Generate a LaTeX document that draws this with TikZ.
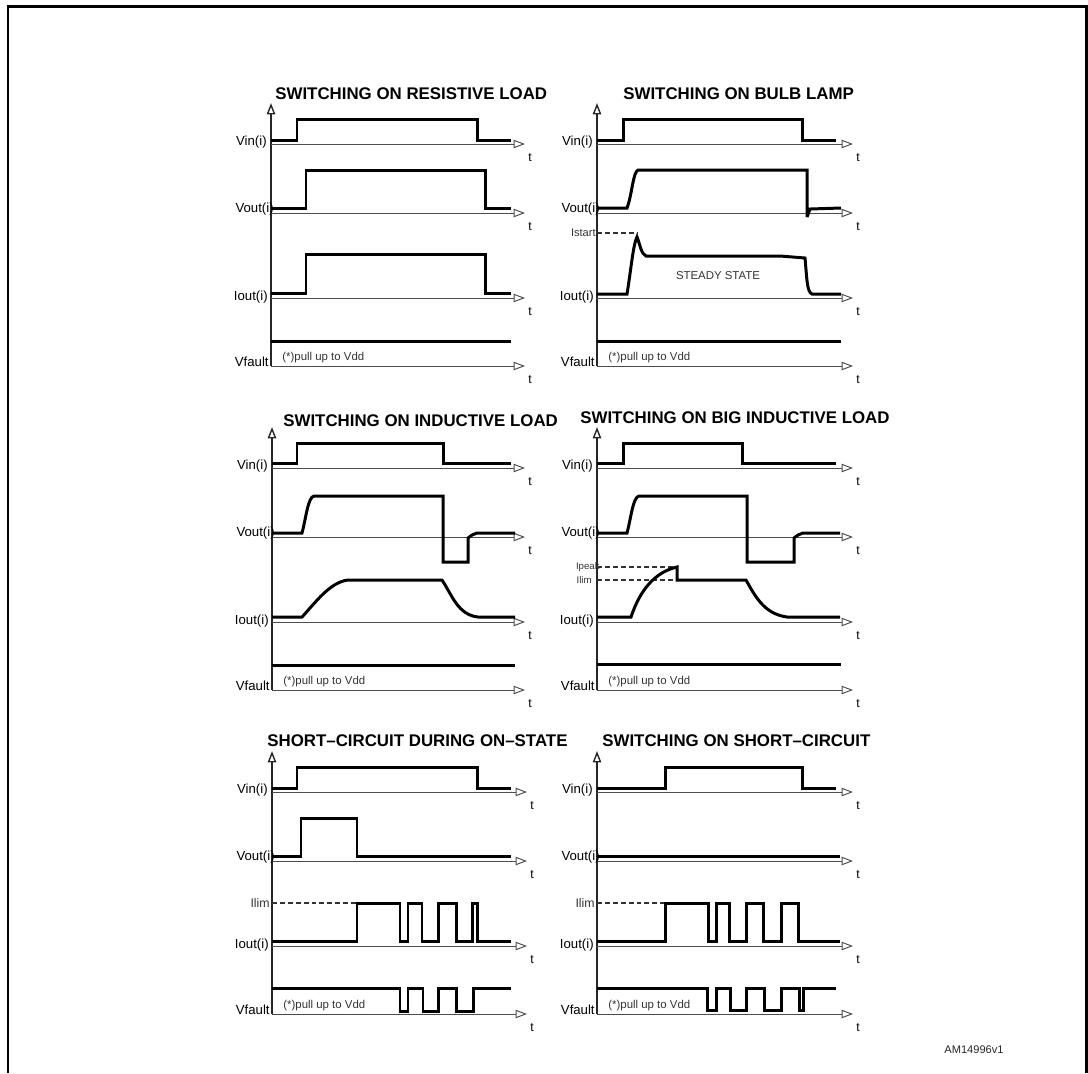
\documentclass[tikz,border=0pt]{standalone}
\usepackage{fontspec}
\setmainfont{Liberation Sans}
\usetikzlibrary{arrows.meta}

\begin{document}
\begin{tikzpicture}[x=0.02cm, y=-0.02cm,
  axis/.style={line width=0.55pt, black!70, -{Triangle[open, length=6.5pt, width=4.8pt]}},
  signal/.style={line width=1.7pt, black, miter limit=3},
  level/.style={line width=0.6pt, black!80, dash pattern=on 2.8pt off 1.7pt},
  title/.style={anchor=base west, inner sep=0pt, font=\bfseries\fontsize{9.6}{11}\selectfont},
  lab/.style={anchor=east, inner sep=0pt, black, font=\fontsize{7.5}{9}\selectfont},
  small/.style={inner sep=0pt, black!80, font=\fontsize{6.5}{8}\selectfont}]

  \useasboundingbox (0,0) rectangle (1088,1073);

  % Outer frame
  \draw[line width=1.7pt] (8,1073) -- (8,6) -- (1086,6) -- (1086,1073);

  % Titles
  \node[title] (ta) at (275,99) {SWITCHING ON RESISTIVE LOAD};
  \node[title] (tb) at (623,99) {SWITCHING ON BULB LAMP};
  \node[title] (tc) at (283,426) {SWITCHING ON INDUCTIVE LOAD};
  \node[title] (td) at (580,423) {SWITCHING ON BIG INDUCTIVE LOAD};
  \node[title] (te) at (267,746) {SHORT–CIRCUIT DURING ON–STATE};
  \node[title] (tf) at (602,746) {SWITCHING ON SHORT–CIRCUIT};

  % Axes and labels of the six panels
  \foreach \p/\xo/\yo/\xe in {a/271/0/525, b/597/0/853, c/272/324/525,
                             d/597/324/853, e/272/648/527, f/597/648/853} {
    \draw[axis, line width=0.8pt, black!85] (\xo,366+\yo) -- (\xo,103+\yo);
    \foreach \ya in {144,213,298,366} {
      \draw[axis] (\xo,\ya+\yo) -- (\xe,\ya+\yo);
      \node[small, black, font=\fontsize{7}{8}\selectfont] (t\p\ya) at (\xe+5,\ya+\yo+14) {t};
    }
    \node[lab] (vin\p) at (\xo-4,142+\yo) {Vin(i)};
    \node[lab] (vout\p) at (\xo+3,209+\yo) {Vout(i)};
    \node[lab] (iout\p) at (\xo-3,297+\yo) {Iout(i)};
    \node[lab] (vfault\p) at (\xo-2,362+\yo) {Vfault};
    \node[small, anchor=west] (pull\p) at (\xo+11,358+\yo) {(*)pull up to Vdd};
  }

  % Resistive load
  \draw[signal] (271,140) -- (297,140) -- (297,119) -- (477,119) -- (477,140) -- (511,140);
  \draw[signal] (271,208) -- (306,208) -- (306,170) -- (485,170) -- (485,208) -- (511,208);
  \draw[signal] (271,293) -- (306,293) -- (306,254) -- (485,254) -- (485,293) -- (511,293);
  \draw[signal] (271,341) -- (511,341);

  % Bulb lamp
  \draw[signal] (597,140) -- (623,140) -- (623,119) -- (802,119) -- (802,140) -- (836,140);
  \draw[signal] (597,208) -- (627,208) .. controls (632,195) and (633,172) .. (638,170)
    -- (807,170) -- (807,217) -- (810,209) -- (841,208);
  \draw[level] (597,233) -- (637,233);
  \node[small, anchor=east, font=\fontsize{6.3}{7}\selectfont] (istart) at (596,233) {Istart};
  \draw[signal] (597,294) -- (627,294) .. controls (631,270) and (633,245) .. (637,237)
    .. controls (640,244) and (641,254) .. (646,256) -- (780,256) -- (805,258)
    .. controls (807,280) and (807,292) .. (812,294) -- (841,294);
  \node[small] (steady) at (718,276) {STEADY STATE};
  \draw[signal] (597,341) -- (841,341);

  % Inductive load
  \draw[signal] (272,463) -- (297,463) -- (297,443) -- (443,443) -- (443,463) -- (511,463);
  \draw[signal] (272,533) -- (302,533) .. controls (306,518) and (308,497) .. (314,496)
    -- (443,496) -- (443,562) -- (468,562) -- (468,538) -- (472,535) -- (477,533) -- (515,533);
  \draw[signal] (272,617) -- (302,617) .. controls (315,603) and (330,582) .. (348,580)
    -- (442,580) .. controls (452,595) and (458,615) .. (478,617) -- (515,617);
  \draw[signal] (272,665) -- (515,665);

  % Big inductive load
  \draw[signal] (597,463) -- (623,463) -- (623,443) -- (742,443) -- (742,463) -- (836,463);
  \draw[signal] (597,533) -- (627,533) .. controls (631,518) and (633,497) .. (639,496)
    -- (747,496) -- (747,562) -- (794,562) -- (794,538) -- (798,535) -- (803,533) -- (840,533);
  \draw[level] (597,567) -- (677,567);
  \draw[level] (597,580) -- (677,580);
  \node[small, anchor=east, font=\fontsize{5.5}{6}\selectfont] (ipeak) at (600,567) {Ipeak};
  \node[small, anchor=east, font=\fontsize{5.5}{6}\selectfont] (ilimd) at (592,580) {Ilim};
  \draw[signal] (597,617) -- (631,617) .. controls (640,590) and (655,572) .. (677,567)
    -- (677,580) -- (746,580) .. controls (756,598) and (765,614) .. (787,617) -- (840,617);
  \draw[signal] (597,664) -- (841,664);

  % Short-circuit during on-state
  \draw[signal] (272,788) -- (297,788) -- (297,767) -- (477,767) -- (477,788) -- (511,788);
  \draw[signal] (272,856) -- (301,856) -- (301,818) -- (357,818) -- (357,856) -- (511,856);
  \draw[level] (272,903) -- (357,903);
  \node[small, anchor=east, font=\fontsize{7}{8}\selectfont] (ilime) at (270,903) {Ilim};
  \draw[signal] (272,941) -- (357,941) -- (357,903) -- (400,903) -- (400,941) -- (408,941)
    -- (408,903) -- (422,903) -- (422,941) -- (438,941) -- (438,903) -- (456,903)
    -- (456,941) -- (472,941) -- (472,903) -- (477,903) -- (477,941) -- (511,941);
  \draw[signal] (272,988) -- (400,988) -- (400,1011) -- (408,1011) -- (408,988) -- (423,988)
    -- (423,1011) -- (438,1011) -- (438,988) -- (456,988) -- (456,1011) -- (473,1011)
    -- (473,988) -- (511,988);

  % Switching on short-circuit
  \draw[signal] (597,788) -- (665,788) -- (665,767) -- (802,767) -- (802,788) -- (836,788);
  \draw[signal] (597,856) -- (840,856);
  \draw[level] (597,903) -- (665,903);
  \node[small, anchor=east, font=\fontsize{7}{8}\selectfont] (ilimf) at (595,903) {Ilim};
  \draw[signal] (597,941) -- (665,941) -- (665,903) -- (708,903) -- (708,941) -- (716,941)
    -- (716,903) -- (729,903) -- (729,941) -- (746,941) -- (746,903) -- (763,903)
    -- (763,941) -- (781,941) -- (781,903) -- (798,903) -- (798,941) -- (840,941);
  \draw[signal] (597,988) -- (707,988) -- (707,1010) -- (716,1010) -- (716,988) -- (730,988)
    -- (730,1010) -- (746,1010) -- (746,988) -- (764,988) -- (764,1010) -- (781,1010)
    -- (781,988) -- (799,988) -- (799,1010) -- (803,1010) -- (803,988) -- (836,988);

  % Figure code
  \node[small, black!85, font=\fontsize{6.3}{7}\selectfont] (code) at (974,1050) {AM14996v1};
\end{tikzpicture}
\end{document}
